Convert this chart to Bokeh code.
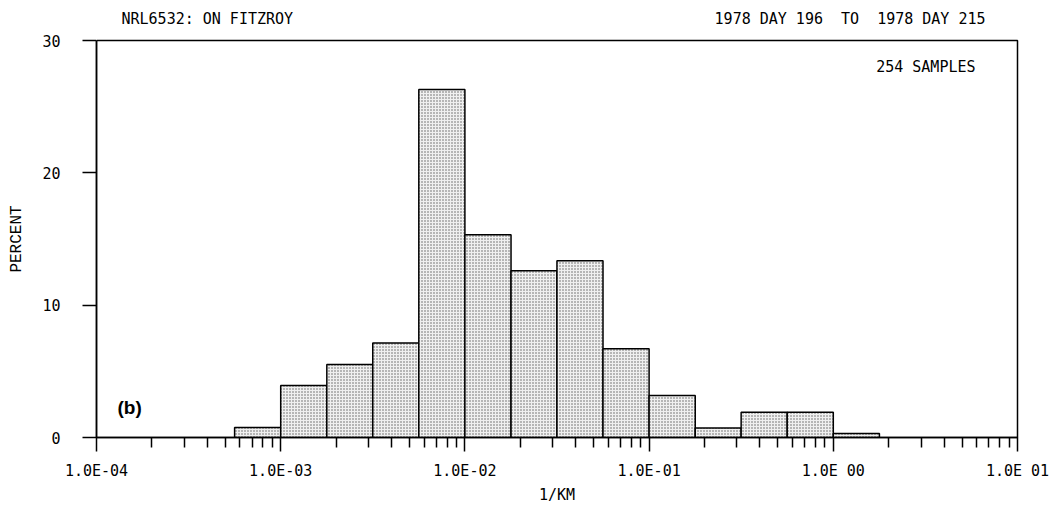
from bokeh.plotting import figure
from bokeh.models import FixedTicker, Label, Title, LogAxis
from bokeh.embed import file_html
from bokeh.resources import INLINE

# histogram bins (1/km), 4 bins per decade
bin_lo = [5.62e-4, 1.0e-3, 1.78e-3, 3.16e-3, 5.62e-3, 1.0e-2, 1.78e-2,
          3.16e-2, 5.62e-2, 1.0e-1, 1.78e-1, 3.16e-1, 5.62e-1, 1.0]
bin_hi = [1.0e-3, 1.78e-3, 3.16e-3, 5.62e-3, 1.0e-2, 1.78e-2, 3.16e-2,
          5.62e-2, 1.0e-1, 1.78e-1, 3.16e-1, 5.62e-1, 1.0, 1.78]
percent = [0.75, 3.93, 5.51, 7.15, 26.3, 15.33, 12.6,
           13.35, 6.7, 3.17, 0.72, 1.9, 1.9, 0.3]

decades = [1e-4, 1e-3, 1e-2, 1e-1, 1e0, 1e1]
decade_labels = ["1.0E-04", "1.0E-03", "1.0E-02", "1.0E-01", "1.0E 00", "1.0E 01"]
minor_mult = [2, 3, 4, 5, 6, 7, 8, 9]
y_ticks = [0, 10, 20, 30]

title_left = "NRL6532: ON FITZROY"
title_right = "1978 DAY 196\u00a0 TO\u00a0 1978 DAY 215"
samples_text = "254 SAMPLES"
panel_tag = "(b)"

MONO = "DejaVu Sans Mono"
H0 = 18  # approx. text box height of the 15px header font

p = figure(width=1059, height=509, x_axis_type="log",
           x_range=(decades[0], decades[-1]), y_range=(y_ticks[0], y_ticks[-1]),
           output_backend="svg", toolbar_location=None,
           min_border_left=96, min_border_right=42,
           min_border_top=40, min_border_bottom=72)

p.background_fill_color = "white"
p.border_fill_color = "white"
p.outline_line_color = "black"
p.outline_line_width = 1.5
p.outline_line_alpha = 1.0
p.xgrid.visible = False
p.ygrid.visible = False

p.quad(left=bin_lo, right=bin_hi, bottom=0, top=percent,
       fill_color="#f0f0f0", line_color="black", line_width=1.5,
       hatch_pattern="dot", hatch_color="#444444", hatch_scale=3,
       hatch_weight=1.1, hatch_alpha=0.85)

minor_vals = [m * d for d in decades[:-1] for m in minor_mult]
xa = p.xaxis[0]
xa.ticker = FixedTicker(ticks=decades, minor_ticks=minor_vals)
xa.major_label_overrides = dict(zip(decades, decade_labels))
xa.axis_line_width = 1.5
xa.major_tick_line_width = 1.5
xa.minor_tick_line_width = 1.5
xa.major_tick_out = 14
xa.major_tick_in = 0
xa.minor_tick_out = 10
xa.minor_tick_in = 0
xa.major_label_standoff = 10
xa.major_label_text_font = MONO
xa.major_label_text_font_size = "15px"
xa.major_label_text_color = "black"
xa.axis_label = "1/KM"
xa.axis_label_standoff = 3
xa.axis_label_text_font = MONO
xa.axis_label_text_font_size = "15px"
xa.axis_label_text_font_style = "normal"
xa.axis_label_text_color = "black"

ya = p.yaxis[0]
ya.ticker = FixedTicker(ticks=y_ticks, minor_ticks=[])
ya.axis_line_width = 1.5
ya.major_tick_line_width = 1.5
ya.major_tick_out = 14
ya.major_tick_in = 0
ya.minor_tick_out = 0
ya.minor_tick_in = 0
ya.major_label_standoff = 22
ya.major_label_text_font = MONO
ya.major_label_text_font_size = "15px"
ya.major_label_text_color = "black"
ya.axis_label = "PERCENT"
ya.axis_label_standoff = 13
ya.axis_label_text_font = "Liberation Mono"
ya.axis_label_text_font_size = "16px"
ya.axis_label_text_font_style = "normal"
ya.axis_label_text_color = "black"

# blank spacer (white tick, no label) between the frame and the header line
spacer = LogAxis(ticker=FixedTicker(ticks=[decades[0]], minor_ticks=[]),
                 axis_line_color=None, major_tick_line_color="white",
                 major_tick_line_width=1, minor_tick_line_color=None,
                 major_tick_out=20, major_tick_in=0,
                 minor_tick_out=0, minor_tick_in=0,
                 major_label_standoff=0,
                 major_label_overrides={decades[0]: ""},
                 major_label_text_font_size="1px",
                 major_label_text_color="white")
p.add_layout(spacer, "above")

# two header texts on one line above the frame
p.add_layout(Title(text=title_left, align="left", offset=25,
                   vertical_align="top", standoff=-H0,
                   text_font=MONO, text_font_size="15px",
                   text_font_style="normal", text_color="black"), "above")
p.add_layout(Title(text=title_right, align="right", offset=32,
                   vertical_align="bottom", standoff=-H0,
                   text_font=MONO, text_font_size="15px",
                   text_font_style="normal", text_color="black"), "above")

p.add_layout(Label(x=decades[-1], y=y_ticks[-1], x_offset=-42, y_offset=-26,
                   text=samples_text, text_align="right", text_baseline="middle",
                   text_font=MONO, text_font_size="15px", text_color="black"))
p.add_layout(Label(x=decades[0], y=y_ticks[0], x_offset=21, y_offset=30,
                   text=panel_tag, text_align="left", text_baseline="middle",
                   text_font="Liberation Sans", text_font_style="bold",
                   text_font_size="19px", text_color="black"))

open("out.html", "w").write(file_html(p, INLINE))
